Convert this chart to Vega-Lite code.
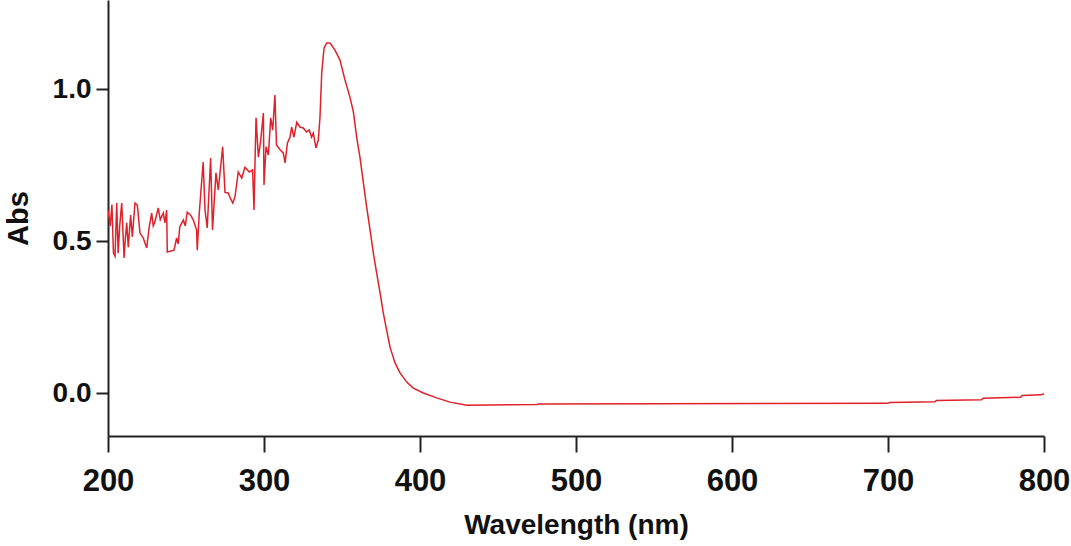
{
  "$schema": "https://vega.github.io/schema/vega-lite/v6.json",
  "width": 936,
  "height": 436,
  "autosize": {"type": "none"},
  "padding": {"left": 108, "top": 0, "right": 27, "bottom": 110},
  "background": "white",
  "config": {"view": {"stroke": null}},
  "data": {"values": [
    {"wl": 200, "abs": 0.60}, {"wl": 201.5, "abs": 0.55}, {"wl": 202.5, "abs": 0.62}, {"wl": 203.5, "abs": 0.46},
    {"wl": 204.5, "abs": 0.45}, {"wl": 205.6, "abs": 0.625}, {"wl": 206.5, "abs": 0.46}, {"wl": 207.5, "abs": 0.55},
    {"wl": 208.8, "abs": 0.625}, {"wl": 210.3, "abs": 0.444}, {"wl": 211, "abs": 0.50}, {"wl": 212, "abs": 0.56},
    {"wl": 213, "abs": 0.48}, {"wl": 214.5, "abs": 0.585}, {"wl": 215.6, "abs": 0.513}, {"wl": 217.3, "abs": 0.625},
    {"wl": 218.8, "abs": 0.618}, {"wl": 220.5, "abs": 0.526}, {"wl": 222.6, "abs": 0.51}, {"wl": 224.8, "abs": 0.477},
    {"wl": 226.4, "abs": 0.546}, {"wl": 228, "abs": 0.592}, {"wl": 229, "abs": 0.55}, {"wl": 230, "abs": 0.562},
    {"wl": 232.2, "abs": 0.609}, {"wl": 233.5, "abs": 0.57}, {"wl": 235.4, "abs": 0.592}, {"wl": 236.5, "abs": 0.56},
    {"wl": 237.6, "abs": 0.602}, {"wl": 238, "abs": 0.464}, {"wl": 242.3, "abs": 0.47}, {"wl": 244, "abs": 0.51},
    {"wl": 245, "abs": 0.49}, {"wl": 246, "abs": 0.546}, {"wl": 248.3, "abs": 0.569}, {"wl": 249.5, "abs": 0.55},
    {"wl": 250.8, "abs": 0.595}, {"wl": 253, "abs": 0.585}, {"wl": 254.7, "abs": 0.569}, {"wl": 256.8, "abs": 0.536},
    {"wl": 257.2, "abs": 0.47}, {"wl": 258.5, "abs": 0.592}, {"wl": 261, "abs": 0.76}, {"wl": 262.2, "abs": 0.602},
    {"wl": 263.6, "abs": 0.543}, {"wl": 265.8, "abs": 0.773}, {"wl": 267, "abs": 0.536}, {"wl": 269.2, "abs": 0.724},
    {"wl": 270.7, "abs": 0.668}, {"wl": 273.5, "abs": 0.81}, {"wl": 275, "abs": 0.66}, {"wl": 277, "abs": 0.658},
    {"wl": 278.5, "abs": 0.64}, {"wl": 280, "abs": 0.625}, {"wl": 281.4, "abs": 0.645}, {"wl": 283.5, "abs": 0.727},
    {"wl": 285.7, "abs": 0.707}, {"wl": 287.8, "abs": 0.743}, {"wl": 290.6, "abs": 0.727}, {"wl": 292.7, "abs": 0.734},
    {"wl": 293.6, "abs": 0.602}, {"wl": 294.2, "abs": 0.75}, {"wl": 294.9, "abs": 0.905}, {"wl": 296.4, "abs": 0.776},
    {"wl": 297.9, "abs": 0.832}, {"wl": 299.6, "abs": 0.921}, {"wl": 300, "abs": 0.684}, {"wl": 301.3, "abs": 0.81},
    {"wl": 302.8, "abs": 0.783}, {"wl": 304.3, "abs": 0.905}, {"wl": 305.6, "abs": 0.865}, {"wl": 307, "abs": 0.98},
    {"wl": 308, "abs": 0.816}, {"wl": 310.3, "abs": 0.80}, {"wl": 312.4, "abs": 0.789}, {"wl": 313.5, "abs": 0.757},
    {"wl": 315, "abs": 0.822}, {"wl": 316.7, "abs": 0.842}, {"wl": 317.7, "abs": 0.875}, {"wl": 319.2, "abs": 0.842},
    {"wl": 321, "abs": 0.891}, {"wl": 323, "abs": 0.875}, {"wl": 325.2, "abs": 0.872}, {"wl": 327.3, "abs": 0.859},
    {"wl": 329, "abs": 0.865}, {"wl": 330.5, "abs": 0.842}, {"wl": 331.6, "abs": 0.855}, {"wl": 333.3, "abs": 0.806},
    {"wl": 334.8, "abs": 0.832}, {"wl": 335.9, "abs": 0.908}, {"wl": 337, "abs": 1.053}, {"wl": 338.5, "abs": 1.135},
    {"wl": 340.2, "abs": 1.151}, {"wl": 342.3, "abs": 1.151}, {"wl": 345.5, "abs": 1.128}, {"wl": 348.7, "abs": 1.095},
    {"wl": 351.9, "abs": 1.03}, {"wl": 355, "abs": 0.975}, {"wl": 357.3, "abs": 0.925}, {"wl": 359.4, "abs": 0.842},
    {"wl": 361.5, "abs": 0.776}, {"wl": 363.7, "abs": 0.691}, {"wl": 365.8, "abs": 0.612}, {"wl": 368, "abs": 0.536},
    {"wl": 370.1, "abs": 0.46}, {"wl": 372.2, "abs": 0.395}, {"wl": 374.4, "abs": 0.329}, {"wl": 376.5, "abs": 0.263},
    {"wl": 378.6, "abs": 0.207}, {"wl": 380.8, "abs": 0.151}, {"wl": 384, "abs": 0.099}, {"wl": 387.2, "abs": 0.066},
    {"wl": 391.5, "abs": 0.036}, {"wl": 395.7, "abs": 0.016}, {"wl": 402.1, "abs": 0.0}, {"wl": 410.7, "abs": -0.016},
    {"wl": 419.2, "abs": -0.03}, {"wl": 430, "abs": -0.04}, {"wl": 475, "abs": -0.038}, {"wl": 476, "abs": -0.036},
    {"wl": 550, "abs": -0.035}, {"wl": 700, "abs": -0.034}, {"wl": 701, "abs": -0.031}, {"wl": 730, "abs": -0.029},
    {"wl": 731, "abs": -0.025}, {"wl": 760, "abs": -0.022}, {"wl": 761, "abs": -0.017}, {"wl": 785, "abs": -0.014},
    {"wl": 786, "abs": -0.008}, {"wl": 798, "abs": -0.006}, {"wl": 800, "abs": -0.002}
  ]},
  "mark": {"type": "line", "color": "#e0202a", "strokeWidth": 1.5, "clip": true},
  "encoding": {
    "x": {
      "field": "wl", "type": "quantitative",
      "scale": {"domain": [200, 800], "nice": false, "zero": false},
      "axis": {
        "title": "Wavelength (nm)",
        "values": [200, 300, 400, 500, 600, 700, 800],
        "grid": false,
        "domainColor": "#222", "domainWidth": 2,
        "tickColor": "#222", "tickWidth": 2, "tickSize": 16,
        "labelFont": "Liberation Sans", "labelFontWeight": "bold", "labelFontSize": 31,
        "labelColor": "#111", "labelPadding": 14, "labelFlush": false, "labelOverlap": false,
        "titleFont": "Liberation Sans", "titleFontWeight": "bold", "titleFontSize": 28,
        "titleColor": "#111", "titleBaseline": "alphabetic", "titleY": 97, "titleX": 468
      }
    },
    "y": {
      "field": "abs", "type": "quantitative",
      "scale": {"domain": [-0.1414, 1.2928], "nice": false, "zero": false},
      "axis": {
        "title": "Abs",
        "values": [0, 0.5, 1.0],
        "format": ".1f",
        "grid": false,
        "domainColor": "#222", "domainWidth": 2,
        "tickColor": "#222", "tickWidth": 2, "tickSize": 12,
        "labelFont": "Liberation Sans", "labelFontWeight": "bold", "labelFontSize": 28,
        "labelColor": "#111", "labelPadding": 5,
        "titleFont": "Liberation Sans", "titleFontWeight": "bold", "titleFontSize": 29,
        "titleColor": "#111", "titleBaseline": "alphabetic", "titleX": -81, "titleY": 218, "titleAngle": -90
      }
    }
  }
}
